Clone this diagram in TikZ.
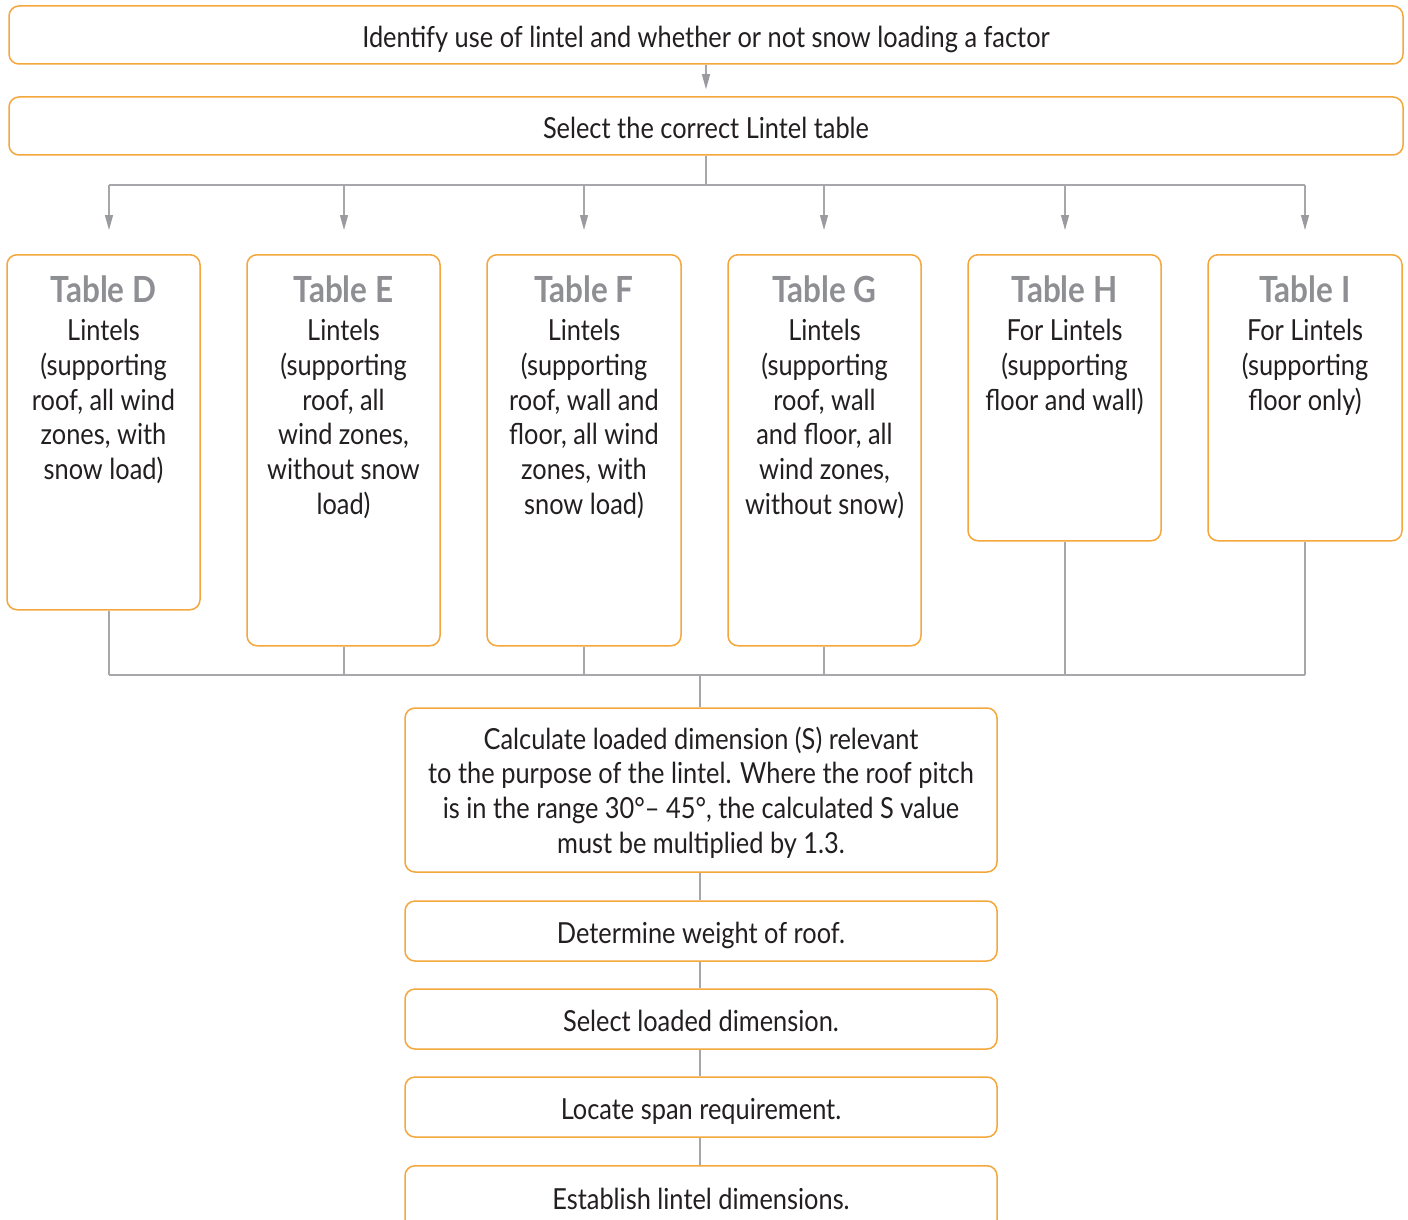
\documentclass[tikz,border=0pt]{standalone}
\usepackage{fontspec}
\setmainfont{Lato}[FakeStretch=0.875]
\usetikzlibrary{arrows.meta}
\definecolor{boxorange}{HTML}{F4A73B}
\definecolor{linegray}{HTML}{A6A7AA}
\definecolor{tipgray}{HTML}{9A9B9F}
\definecolor{headgray}{HTML}{8E8F92}
\definecolor{txtdark}{HTML}{231F20}
\tikzset{
  box/.style={draw=boxorange, line width=1.5pt, rounded corners=10pt, inner sep=0pt, fill=white},
  conn/.style={draw=linegray, line width=1.2pt},
  arr/.style={conn, -{Triangle[length=15pt,width=8pt,color=tipgray]}},
  body/.style={text=txtdark, font=\fontsize{29}{34.8}\selectfont, align=center, inner sep=0pt, text depth=0pt},
  oneline/.style={text height=25pt},
  head/.style={text=headgray, font=\bfseries\fontsize{36}{40}\selectfont, inner sep=0pt},
}
\begin{document}
\begin{tikzpicture}[x=1pt,y=-1pt]
\clip (0,0) rectangle (1408,1220);
\fill[white] (0,0) rectangle (1408,1220);
% top boxes
\node[box, body, oneline, minimum width=1394pt, minimum height=58pt] (ident) at (706,35) {Identify use of lintel and whether or not snow loading a factor};
\node[box, body, oneline, minimum width=1394pt, minimum height=58pt] (sel) at (706,126) {Select the correct Lintel table};
% table boxes
\node[box, minimum width=193pt, minimum height=355pt, anchor=north] (tD) at (103.5,254) {};
\node[box, minimum width=193pt, minimum height=391pt, anchor=north] (tE) at (343.5,254) {};
\node[box, minimum width=194pt, minimum height=391pt, anchor=north] (tF) at (584,254) {};
\node[box, minimum width=193pt, minimum height=391pt, anchor=north] (tG) at (824.5,254) {};
\node[box, minimum width=193pt, minimum height=286pt, anchor=north] (tH) at (1064.5,254) {};
\node[box, minimum width=194pt, minimum height=286pt, anchor=north] (tI) at (1305,254) {};
% headings
\node[head] (hD) at (103.5,289) {Table D};
\node[head] (hE) at (343.5,289) {Table E};
\node[head] (hF) at (584,289) {Table F};
\node[head] (hG) at (824.5,289) {Table G};
\node[head] (hH) at (1064.5,289) {Table H};
\node[head] (hI) at (1305,289) {Table I};
% table texts
\node[body, anchor=north] (xD) at (103.5,319) {Lintels\\(supporting\\roof, all wind\\zones, with\\snow load)};
\node[body, anchor=north] (xE) at (343.5,319) {Lintels\\(supporting\\roof, all\\wind zones,\\without snow\\load)};
\node[body, anchor=north] (xF) at (584,319) {Lintels\\(supporting\\roof, wall and\\floor, all wind\\zones, with\\snow load)};
\node[body, anchor=north] (xG) at (824.5,319) {Lintels\\(supporting\\roof, wall\\and floor, all\\wind zones,\\without snow)};
\node[body, anchor=north] (xH) at (1064.5,319) {For Lintels\\(supporting\\floor and wall)};
\node[body, anchor=north] (xI) at (1305,319) {For Lintels\\(supporting\\floor only)};
% lower boxes
\node[box, body, minimum width=592pt, minimum height=164pt] (calc) at (701,790) {Calculate loaded dimension (S) relevant\\to the purpose of the lintel. Where the roof pitch\\is in the range 30°– 45°, the calculated S value\\must be multiplied by 1.3.};
\node[box, body, oneline, minimum width=592pt, minimum height=60pt] (weight) at (701,931) {Determine weight of roof.};
\node[box, body, oneline, minimum width=592pt, minimum height=60pt] (seldim) at (701,1019) {Select loaded dimension.};
\node[box, body, oneline, minimum width=592pt, minimum height=60pt] (span) at (701,1107) {Locate span requirement.};
\node[box, minimum width=592pt, minimum height=64pt, anchor=north] (estab) at (701,1165) {};
\node[body, oneline] (estabtxt) at (701,1197) {Establish lintel dimensions.};
% connectors top
\draw[arr, shorten >=7pt] (ident.south) -- (sel.north);
\coordinate (split) at (706,185);
\coordinate (fD) at (109,185);
\coordinate (fE) at (344,185);
\coordinate (fF) at (584,185);
\coordinate (fG) at (824,185);
\coordinate (fH) at (1065,185);
\coordinate (fI) at (1305,185);
\draw[conn] (sel.south) -- (split);
\draw[conn] (fD) -- (fI);
\foreach \n in {D,E,F,G,H,I}{
  \draw[arr, shorten >=24pt] (f\n) -- (t\n.north -| f\n);
}
% connectors bottom
\coordinate (jD) at (109,675);
\coordinate (jE) at (344,675);
\coordinate (jF) at (584,675);
\coordinate (jG) at (824,675);
\coordinate (jH) at (1065,675);
\coordinate (jI) at (1305,675);
\coordinate (merge) at (700,675);
\foreach \n in {D,E,F,G,H,I}{
  \draw[conn] (t\n.south -| j\n) -- (j\n);
}
\draw[conn] (jD) -- (jI);
\draw[conn] (merge) -- (calc.north -| merge);
\draw[conn] (calc.south -| merge) -- (weight.north -| merge);
\draw[conn] (weight.south -| merge) -- (seldim.north -| merge);
\draw[conn] (seldim.south -| merge) -- (span.north -| merge);
\draw[conn] (span.south -| merge) -- (estab.north -| merge);
\end{tikzpicture}
\end{document}
